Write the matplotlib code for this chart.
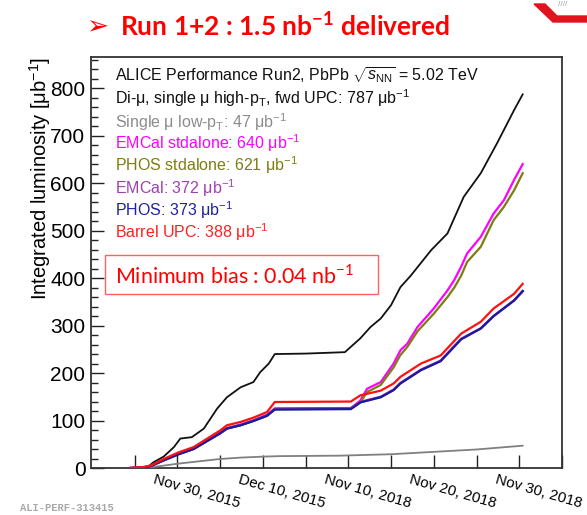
import numpy as np
import matplotlib
matplotlib.use("Agg")
import matplotlib.pyplot as plt
import matplotlib.transforms as mtransforms
from matplotlib.patches import Rectangle, Polygon

plt.rcParams['font.family'] = ['Liberation Sans', 'DejaVu Sans']
plt.rcParams['mathtext.fontset'] = 'custom'
plt.rcParams['mathtext.rm'] = 'Liberation Sans'
plt.rcParams['mathtext.it'] = 'Liberation Sans:italic'
plt.rcParams['mathtext.bf'] = 'Lato:bold'
plt.rcParams['mathtext.sf'] = 'Lato'

# ---- data: integrated luminosity (ub^-1) vs running day (2015 and 2018 runs joined) ----
dimu_day = [-0.5, 1.0, 1.6, 2.2, 3.4, 4.6, 5.35, 6.7, 8.1, 9.65, 10.8, 12.4, 13.9, 14.7,
            15.7, 16.4, 20.0, 24.6, 26.4, 27.6, 28.8, 30.0, 31.1, 32.3, 34.7, 36.6,
            38.5, 40.5, 42.4, 44.4, 45.4]
dimu_lumi = [0, 1, 3, 12, 24, 44, 62, 65, 83, 125, 149, 170, 181, 202,
             220, 240, 241, 244, 273, 297, 315, 343, 381, 405, 459, 494,
             571, 621, 684, 754, 787]

lowpt_day = [-0.5, 1.5, 3.0, 5.0, 7.5, 10.0, 12.5, 15.1, 17.0, 24.0, 30.0, 33.0, 36.0, 40.0, 45.4]
lowpt_lumi = [0, 1, 4, 9, 14, 19, 22, 24, 25, 26, 29, 32, 35, 39, 47]

calo_day = [-0.5, 1.0, 1.85, 3.4, 5.15, 6.9, 8.5, 10.0, 10.8, 12.4, 13.9, 15.5, 16.4, 25.3,
            26.4, 27.2, 28.8, 30.3, 31.1, 31.9, 33.1, 35.0, 36.6, 37.4, 38.2, 38.9,
            40.5, 42.0, 43.2, 44.4, 45.4]
emcal_sa_lumi = [0, 1, 4, 16, 29, 40, 57, 73, 83, 91, 100, 111, 125, 126,
                 142, 167, 181, 220, 248, 262, 297, 336, 374, 396, 424, 452,
                 487, 536, 564, 607, 640]
phos_sa_lumi = [0, 1, 4, 16, 29, 40, 57, 73, 83, 90, 99, 110, 124, 125,
                138, 160, 175, 212, 238, 255, 288, 325, 360, 380, 405, 434,
                466, 522, 550, 585, 621]

upc_day = [-0.5, 1.0, 1.85, 3.4, 5.15, 6.9, 8.5, 10.0, 10.8, 12.4, 13.9, 15.5, 16.4, 25.3,
           26.4, 28.8, 30.3, 31.1, 32.3, 33.5, 35.8, 38.2, 40.5, 42.0, 44.4, 45.4]
emcal_lumi = [0, 1, 4, 17, 30, 41, 58, 74, 84, 91, 100, 112, 125, 126,
              139, 150, 165, 179, 193, 207, 226, 272, 294, 320, 353, 372]
phos_lumi = [0, 1, 4, 16, 29, 40, 57, 73, 83, 90, 99, 110, 123, 124,
             138, 149, 164, 178, 192, 206, 225, 271, 294, 320, 353, 373]
upc_lumi = [0, 2, 5, 19, 33, 44, 62, 79, 90, 97, 106, 118, 139, 140,
            153, 163, 178, 192, 206, 220, 237, 283, 308, 336, 367, 388]

tick_days = list(range(0, 51, 5))
label_days = [5, 15, 25, 35, 45]
date_labels = ["Nov 30, 2015", "Dec 10, 2015", "Nov 10, 2018", "Nov 20, 2018", "Nov 30, 2018"]

legend_lines = [
    (r"ALICE Performance Run2, PbPb $\sqrt{s_{\rm NN}}$ = 5.02 TeV", "#111111"),
    (r"Di-μ, single μ high-p$_{\rm T}$, fwd UPC: 787 μb$^{-1}$", "#111111"),
    (r"Single μ low-p$_{\rm T}$: 47 μb$^{-1}$", "#8c8c8c"),
    (r"EMCal stdalone: 640 μb$^{-1}$", "#ff00ff"),
    (r"PHOS stdalone: 621 μb$^{-1}$", "#7d7d10"),
    (r"EMCal: 372 μb$^{-1}$", "#a040b0"),
    (r"PHOS: 373 μb$^{-1}$", "#2020a0"),
    (r"Barrel UPC: 388 μb$^{-1}$", "#ff2020"),
]

W, H = 587, 515
fig = plt.figure(figsize=(W / 100, H / 100), dpi=100)
ax = fig.add_axes([91 / W, 47 / H, 471 / W, 411 / H])

ax.plot(dimu_day, dimu_lumi, color="#111111", lw=1.3, zorder=3)
ax.plot(lowpt_day, lowpt_lumi, color="#808080", lw=1.3, zorder=3)
ax.plot(calo_day, emcal_sa_lumi, color="#ff00ff", lw=1.6, zorder=3)
ax.plot(calo_day, phos_sa_lumi, color="#7d7d10", lw=1.6, zorder=3)
ax.plot(upc_day, emcal_lumi, color="#9933aa", lw=1.8, zorder=3)
ax.plot(upc_day, phos_lumi, color="#1a1aa0", lw=1.6, zorder=3)
ax.plot(upc_day, upc_lumi, color="#ff1010", lw=1.6, zorder=3)

ax.set_xlim(-5.1, 50)
ax.set_ylim(0, 865.7)

ax.set_xticks(tick_days)
ax.set_xticklabels([])
ax.tick_params(axis="x", direction="in", length=9.5, width=1.0, color="#222222")
ax.set_yticks(np.arange(0, 801, 100))
ax.set_yticks(np.arange(0, 861, 20), minor=True)
ax.tick_params(axis="y", which="major", direction="in", length=9.5, width=1.0,
               labelsize=15, pad=4, color="#222222")
ax.tick_params(axis="y", which="minor", direction="in", length=4.8, width=1.0, color="#222222")
for s in ax.spines.values():
    s.set_linewidth(1.3)
    s.set_color("#333333")

ax.set_ylabel("Integrated luminosity [μb$^{-1}$]", fontsize=14.5, loc="top", labelpad=-2)

shift = mtransforms.ScaledTranslation(-22 / 100, -5 / 100, fig.dpi_scale_trans)
for d, lab in zip(label_days, date_labels):
    ax.text(d, 0, lab, transform=ax.get_xaxis_transform() + shift, rotation=-16,
            rotation_mode="anchor", ha="left", va="top", fontsize=10.8)

# legend-style annotations
ys = [75, 98, 122, 143, 165, 188, 210, 232]
for (txt, col), y in zip(legend_lines, ys):
    fig.text(115 / W, 1 - y / H, txt, color=col, fontsize=11.5, ha="left", va="center")

# minimum bias box
fig.patches.append(Rectangle((105 / W, 1 - 294 / H), 273 / W, 39 / H, transform=fig.transFigure,
                             fill=True, facecolor="white", edgecolor="#ff6060", lw=1.0, zorder=5))
fig.text(115 / W, 1 - 276 / H, r"Minimum bias : 0.04 nb$^{\mathsf{-1}}$", color="#ff0000",
         fontsize=15.5, family="Lato", ha="left", va="center", zorder=6)

# headline
fig.text(86 / W, 1 - 27 / H, "\u27a2", color="#ff0000", fontsize=19, family="DejaVu Sans",
         ha="left", va="center")
fig.text(120 / W, 1 - 26 / H, r"Run 1+2 : 1.5 nb$^{\mathbf{-1}}$ delivered", color="#ff0000",
         fontsize=19, family="Lato", weight="bold", ha="left", va="center")

# corner logo fragment
fig.patches.append(Polygon([(534 / W, 1 - 4 / H), (553 / W, 1 - 22 / H), (1.0, 1 - 22 / H),
                            (1.0, 1 - 16 / H), (557 / W, 1 - 16 / H), (545 / W, 1 - 4 / H)],
                           closed=True, transform=fig.transFigure, color="#e0141e"))
fig.text(558 / W, 1 - 5 / H, "////", color="#a0a0a0", fontsize=6, ha="left", va="center")

fig.text(20 / W, 1 - 508 / H, "ALI-PERF-313415", color="#a8a8a8", fontsize=7.5,
         family="Liberation Mono", weight="bold", ha="left", va="center")

fig.savefig("out.png", dpi=100)
